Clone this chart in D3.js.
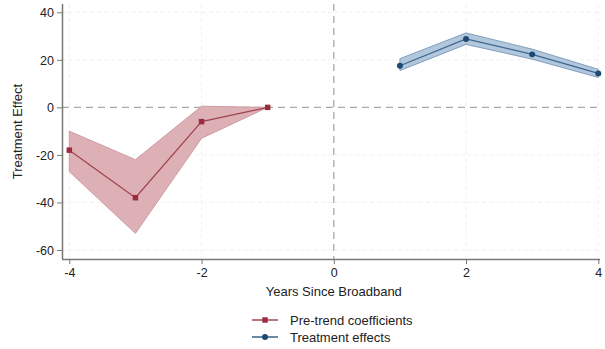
<!DOCTYPE html>
<html>
<head>
<meta charset="utf-8">
<script src="https://cdn.jsdelivr.net/npm/d3@7"></script>
<style>
  html, body { margin: 0; padding: 0; background: #fff; }
  svg { display: block; font-family: "Liberation Sans", Arial, sans-serif; }
</style>
</head>
<body>
<svg id="chart" width="605" height="349"></svg>
<script>
// Event-study estimates: pre-trend coefficients and post-broadband treatment effects
const preYears  = [-4, -3, -2, -1];
const preCoef   = [-18, -38, -6, 0];
const preLower  = [-27, -53, -13, 0];
const preUpper  = [-10, -22, 0.5, 0];

const postYears = [1, 2, 3, 4];
const postCoef  = [17.5, 28.8, 22.3, 14.3];
const postLower = [15.5, 26.5, 20.3, 12.6];
const postUpper = [20.5, 31.3, 24.5, 16.0];

const xTicks = [-4, -2, 0, 2, 4];
const yTicks = [-60, -40, -20, 0, 20, 40];

const svg = d3.select("#chart");
const x = d3.scaleLinear().domain([-4, 4]).range([69.3, 598.3]);
const y = d3.scaleLinear().domain([-60, 40]).range([250, 12.3]);
const axisX0 = 62, axisY0 = 259, plotTop = 4, plotRight = 600;
const fmt = d => String(d);
const tickFont = 12.5, titleFont = 13;

const grid = svg.append("g");
// faint dotted gridlines
grid.selectAll("line.hy").data(yTicks.filter(d => d !== 0)).join("line")
  .attr("x1", axisX0).attr("x2", plotRight)
  .attr("y1", d => y(d)).attr("y2", d => y(d))
  .attr("stroke", "#f1f1f1").attr("stroke-width", 1).attr("stroke-dasharray", "4,3");
grid.selectAll("line.vx").data(xTicks.filter(d => d !== 0)).join("line")
  .attr("x1", d => x(d)).attr("x2", d => x(d))
  .attr("y1", plotTop).attr("y2", axisY0)
  .attr("stroke", "#f1f1f1").attr("stroke-width", 1).attr("stroke-dasharray", "4,3");
// reference lines at zero
grid.append("line")
  .attr("x1", axisX0).attr("x2", plotRight).attr("y1", y(0)).attr("y2", y(0))
  .attr("stroke", "#a8a8a8").attr("stroke-width", 1.3).attr("stroke-dasharray", "7,5");
grid.append("line")
  .attr("x1", x(0)).attr("x2", x(0)).attr("y1", plotTop).attr("y2", axisY0)
  .attr("stroke", "#a8a8a8").attr("stroke-width", 1.3).attr("stroke-dasharray", "7,5");

function series(years, coef, lo, hi, col, lineCol, fill, edge, symbol) {
  const g = svg.append("g");
  const idx = d3.range(years.length);
  const area = d3.area().x(i => x(years[i])).y0(i => y(lo[i])).y1(i => y(hi[i]));
  g.append("path").datum(idx).attr("d", area)
    .attr("fill", fill).attr("stroke", edge).attr("stroke-width", 1);
  const line = d3.line().x(i => x(years[i])).y(i => y(coef[i]));
  g.append("path").datum(idx).attr("d", line)
    .attr("fill", "none").attr("stroke", lineCol).attr("stroke-width", 1.2);
  g.selectAll("path.m").data(idx).join("path")
    .attr("transform", i => `translate(${x(years[i])},${y(coef[i])})`)
    .attr("d", d3.symbol().type(symbol).size(symbol === d3.symbolSquare ? 30 : 28))
    .attr("fill", col);
}

series(preYears, preCoef, preLower, preUpper, "#9a2c3c", "#a04050", "#ddb0b5", "#cf9aa1", d3.symbolSquare);
series(postYears, postCoef, postLower, postUpper, "#1d4a72", "#3a6790", "#b3c7dc", "#7f9fc0", d3.symbolCircle);

// axes
const xAxis = d3.axisBottom(x).tickValues(xTicks).tickSize(5).tickPadding(4).tickFormat(fmt);
const gx = svg.append("g").attr("transform", `translate(0,${axisY0})`).call(xAxis);
gx.select(".domain").attr("d", `M${axisX0},0.5H${plotRight}`);
const yAxis = d3.axisLeft(y).tickValues(yTicks).tickSize(5).tickPadding(3).tickFormat(fmt);
const gy = svg.append("g").attr("transform", `translate(${axisX0},0)`).call(yAxis);
gy.select(".domain").attr("d", `M0.5,${plotTop}V${axisY0}`);
[gx, gy].forEach(g => {
  g.selectAll(".domain").attr("stroke", "#777").attr("stroke-width", 1.5);
  g.selectAll(".tick line").attr("stroke", "#777");
  g.selectAll("text").attr("font-size", tickFont).attr("fill", "#222").attr("font-family", "Liberation Sans, Arial, sans-serif");
});
gy.selectAll("text").attr("dy", "0.35em");

// titles
svg.append("text").attr("x", x(0)).attr("y", 296).attr("text-anchor", "middle")
  .attr("font-size", titleFont).attr("fill", "#222").text("Years Since Broadband");
svg.append("text").attr("transform", `translate(22,${(plotTop + axisY0) / 2}) rotate(-90)`)
  .attr("text-anchor", "middle").attr("font-size", titleFont).attr("fill", "#222").text("Treatment Effect");

// legend
const legend = [
  { label: "Pre-trend coefficients", col: "#9a2c3c", sym: d3.symbolSquare },
  { label: "Treatment effects", col: "#1d4a72", sym: d3.symbolCircle }
];
const lg = svg.append("g");
legend.forEach((d, i) => {
  const yy = 320 + i * 17;
  lg.append("line").attr("x1", 252).attr("x2", 278).attr("y1", yy).attr("y2", yy)
    .attr("stroke", d.col).attr("stroke-width", 1.3);
  lg.append("path").attr("transform", `translate(265,${yy})`)
    .attr("d", d3.symbol().type(d.sym).size(d.sym === d3.symbolSquare ? 30 : 28)).attr("fill", d.col);
  lg.append("text").attr("x", 290).attr("y", yy).attr("dy", "0.35em")
    .attr("font-size", titleFont).attr("fill", "#222").text(d.label);
});
</script>
</body>
</html>
